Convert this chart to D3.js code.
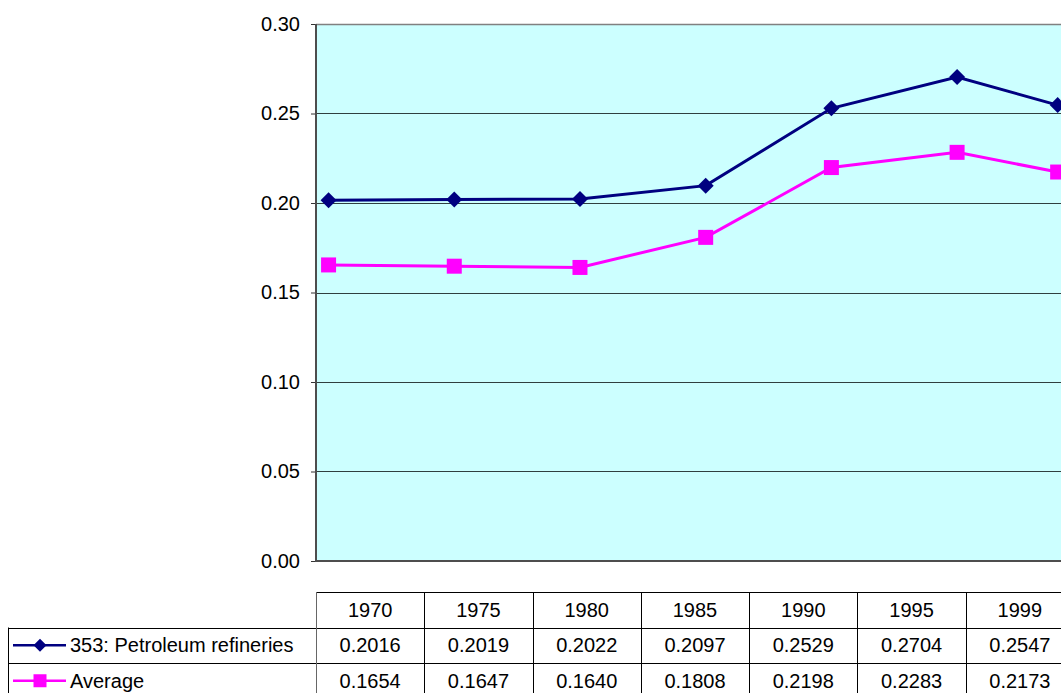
<!DOCTYPE html>
<html>
<head>
<meta charset="utf-8">
<script src="https://cdn.jsdelivr.net/npm/d3@7"></script>
<style>
  html, body { margin: 0; padding: 0; background: #ffffff; overflow: hidden; }
  svg { display: block; }
  text { font-family: "Liberation Sans", Arial, sans-serif; fill: #000; }
</style>
</head>
<body>
<svg id="chart" width="1061" height="693"></svg>
<script>
// Years shown in the data table and on the date axis
const years = [1970, 1975, 1980, 1985, 1990, 1995, 1999];
// Series values
const refineries = [0.2016, 0.2019, 0.2022, 0.2097, 0.2529, 0.2704, 0.2547];
const average = [0.1654, 0.1647, 0.1640, 0.1808, 0.2198, 0.2283, 0.2173];
const seriesNames = ["353: Petroleum refineries", "Average"];
// Value axis ticks
const yTicks = [0, 0.05, 0.10, 0.15, 0.20, 0.25, 0.30];

const svg = d3.select("#chart");
const plot = { left: 316, top: 24, right: 1074, bottom: 561 };
const fontSize = 20;

const series = [
  { name: seriesNames[0], values: refineries, color: "#000080", marker: "diamond" },
  { name: seriesNames[1], values: average, color: "#FF00FF", marker: "square" }
];

// Time-based category axis: points sit at their year position
const x = d3.scaleLinear().domain([1969.5, 1999.65]).range([plot.left, plot.right]);
const y = d3.scaleLinear().domain([0, 0.30]).range([plot.bottom, plot.top]);

// Plot background
svg.append("rect")
  .attr("x", plot.left).attr("y", plot.top)
  .attr("width", plot.right - plot.left).attr("height", plot.bottom - plot.top)
  .attr("fill", "#CCFFFF");

// Gridlines
svg.append("g")
  .selectAll("line")
  .data(yTicks.filter(t => t > 0 && t < 0.30))
  .join("line")
  .attr("x1", plot.left).attr("x2", plot.right)
  .attr("y1", d => Math.round(y(d)) + 0.5).attr("y2", d => Math.round(y(d)) + 0.5)
  .attr("stroke", "#2f3f3f").attr("stroke-width", 1);

// Top border of the plot area
svg.append("line")
  .attr("x1", plot.left).attr("x2", plot.right)
  .attr("y1", plot.top + 0.5).attr("y2", plot.top + 0.5)
  .attr("stroke", "#808080").attr("stroke-width", 1.5);

// Value axis
const yAxis = d3.axisLeft(y)
  .tickValues(yTicks)
  .tickFormat(d3.format(".2f"))
  .tickSize(5)
  .tickPadding(11);
const yAxisG = svg.append("g")
  .attr("transform", `translate(${plot.left},0)`)
  .call(yAxis);
yAxisG.select(".domain").remove();
yAxisG.selectAll(".tick line").attr("stroke", "#333");
yAxisG.selectAll(".tick text")
  .style("font-family", '"Liberation Sans", Arial, sans-serif')
  .style("font-size", fontSize + "px")
  .attr("fill", "#000");

// Axis lines
svg.append("line")
  .attr("x1", plot.left).attr("x2", plot.left)
  .attr("y1", plot.top).attr("y2", plot.bottom + 1)
  .attr("stroke", "#4d4d4d").attr("stroke-width", 2);
svg.append("line")
  .attr("x1", plot.left).attr("x2", plot.right)
  .attr("y1", plot.bottom).attr("y2", plot.bottom)
  .attr("stroke", "#4d4d4d").attr("stroke-width", 2);

// Marker shapes
function markerPath(type, size) {
  const h = size / 2;
  if (type === "diamond") return `M0,${-h}L${h},0L0,${h}L${-h},0Z`;
  return `M${-h},${-h}H${h}V${h}H${-h}Z`;
}

const line = d3.line()
  .x((d, i) => x(years[i]))
  .y(d => y(d));

series.forEach(s => {
  const g = svg.append("g");
  g.append("path")
    .attr("d", line(s.values))
    .attr("fill", "none")
    .attr("stroke", s.color)
    .attr("stroke-width", 3);
  g.selectAll("path.mk")
    .data(s.values)
    .join("path")
    .attr("class", "mk")
    .attr("transform", (d, i) => `translate(${x(years[i])},${y(d)})`)
    .attr("d", markerPath(s.marker, s.marker === "diamond" ? 16 : 15))
    .attr("fill", s.color);
});

// Data table
const table = { left: 8, colLeft: 316, top: 592, rowH: 35.5 };
const colW = (plot.right - plot.left) / years.length;
const tg = svg.append("g");
const tableRight = table.colLeft + colW * years.length;

// Horizontal rules
[0, 1, 2, 3].forEach(r => {
  const yy = Math.round(table.top + r * table.rowH) + 0.5;
  tg.append("line")
    .attr("x1", r === 0 ? table.colLeft : table.left)
    .attr("x2", tableRight)
    .attr("y1", yy).attr("y2", yy)
    .attr("stroke", "#000").attr("stroke-width", 1);
});
// Vertical rules
tg.append("line")
  .attr("x1", table.left + 0.5).attr("x2", table.left + 0.5)
  .attr("y1", table.top + table.rowH).attr("y2", 693)
  .attr("stroke", "#000");
years.forEach((yr, i) => {
  const xx = Math.round(table.colLeft + i * colW) + 0.5;
  tg.append("line")
    .attr("x1", xx).attr("x2", xx)
    .attr("y1", table.top).attr("y2", 693)
    .attr("stroke", i === 0 ? "#666" : "#000");
});

// Header row
tg.selectAll("text.hdr")
  .data(years)
  .join("text")
  .attr("class", "hdr")
  .attr("x", (d, i) => table.colLeft + (i + 0.5) * colW)
  .attr("y", table.top + table.rowH / 2)
  .attr("dy", "0.36em")
  .attr("text-anchor", "middle")
  .style("font-size", fontSize + "px")
  .text(d => d);

// Series rows
series.forEach((s, r) => {
  const cy = table.top + (r + 1.5) * table.rowH;
  tg.selectAll(`text.v${r}`)
    .data(s.values)
    .join("text")
    .attr("class", `v${r}`)
    .attr("x", (d, i) => table.colLeft + (i + 0.5) * colW)
    .attr("y", cy)
    .attr("dy", "0.36em")
    .attr("text-anchor", "middle")
    .style("font-size", fontSize + "px")
    .text(d => d3.format(".4f")(d));

  // Legend key
  tg.append("line")
    .attr("x1", 13).attr("x2", 66)
    .attr("y1", cy).attr("y2", cy)
    .attr("stroke", s.color).attr("stroke-width", 2.4);
  tg.append("path")
    .attr("transform", `translate(40,${cy})`)
    .attr("d", markerPath(s.marker, 13))
    .attr("fill", s.color);
  tg.append("text")
    .attr("x", 70)
    .attr("y", cy)
    .attr("dy", "0.36em")
    .style("font-size", fontSize + "px")
    .text(s.name);
});
</script>
</body>
</html>
